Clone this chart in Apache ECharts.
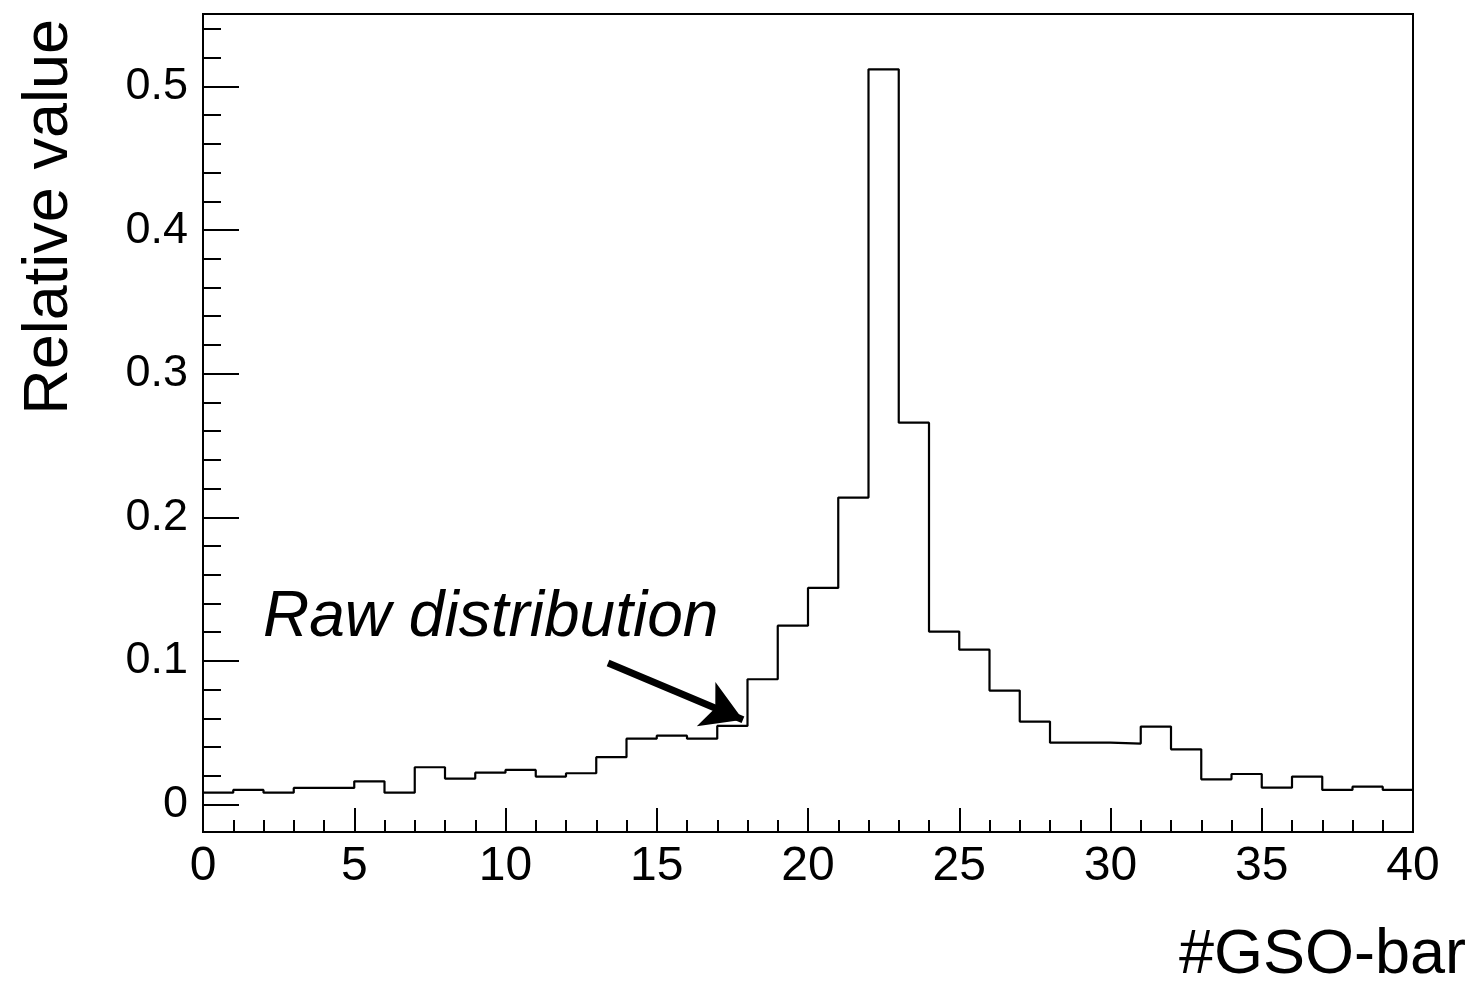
<!DOCTYPE html>
<html>
<head>
<meta charset="utf-8">
<script src="https://cdn.jsdelivr.net/npm/echarts@6/dist/echarts.min.js"></script>
<style>
  html, body { margin: 0; padding: 0; background: #fff; }
  #chart { width: 1477px; height: 982px; }
</style>
</head>
<body>
<div id="chart"></div>
<script>
// Bin edges of the histogram (one bin per GSO bar, 0..40)
const binEdges = [0,1,2,3,4,5,6,7,8,9,10,11,12,13,14,15,16,17,18,19,20,21,22,23,24,25,26,27,28,29,30,31,32,33,34,35,36,37,38,39,40];
// Relative value in each bin
const binValues = [
  0.0082, 0.0101, 0.0082, 0.0115, 0.0115, 0.0161, 0.0082, 0.0259, 0.0180, 0.0221,
  0.0240, 0.0194, 0.0217, 0.0329, 0.0458, 0.0479, 0.0458, 0.0547, 0.0872, 0.1245,
  0.1508, 0.2137, 0.5120, 0.2659, 0.1204, 0.1078, 0.0793, 0.0577, 0.0430, 0.0430,
  0.0424, 0.0542, 0.0384, 0.0175, 0.0212, 0.0117, 0.0194, 0.0101, 0.0124, 0.0101
];
// Axis tick values
const yMajorTicks = [0, 0.1, 0.2, 0.3, 0.4, 0.5];
const yMinorTicks = [0.02, 0.04, 0.06, 0.08, 0.12, 0.14, 0.16, 0.18, 0.22, 0.24, 0.26, 0.28,
                     0.32, 0.34, 0.36, 0.38, 0.42, 0.44, 0.46, 0.48, 0.52, 0.54];
// Annotation arrow: from text towards the distribution
const arrowFrom = [13.39, 0.0985];
const arrowTo = [17.85, 0.0590];

const FONT = '"Liberation Sans", Arial, Helvetica, sans-serif';
const Y_MIN = -0.0192, Y_MAX = 0.5505;

// Step outline: one point at each left edge, plus the closing right edge
const stepData = binValues.map((v, i) => [binEdges[i], v]);
stepData.push([binEdges[binEdges.length - 1], binValues[binValues.length - 1]]);

const chart = echarts.init(document.getElementById('chart'), null, { renderer: 'canvas' });

chart.setOption({
  backgroundColor: '#fff',
  animation: false,
  grid: {
    left: 203, right: 64, top: 14, bottom: 150,
    show: true, borderColor: '#000', borderWidth: 2, backgroundColor: 'transparent'
  },
  xAxis: {
    type: 'value', min: 0, max: 40, interval: 5,
    axisLine: { show: true, onZero: false, lineStyle: { color: '#000', width: 2 } },
    axisTick: { show: true, inside: true, length: 24, lineStyle: { color: '#000', width: 2 } },
    minorTick: { show: true, splitNumber: 5, length: 12, lineStyle: { color: '#000', width: 2 } },
    axisLabel: { color: '#000', fontFamily: FONT, fontSize: 48, margin: 11 },
    splitLine: { show: false }
  },
  yAxis: [
    {
      type: 'value', min: Y_MIN, max: Y_MAX,
      axisLine: { show: true, onZero: false, lineStyle: { color: '#000', width: 2 } },
      axisTick: { show: true, inside: true, length: 36, customValues: yMajorTicks,
                  lineStyle: { color: '#000', width: 2 } },
      axisLabel: { color: '#000', fontFamily: FONT, fontSize: 45, margin: 15,
                   customValues: yMajorTicks },
      splitLine: { show: false }
    },
    {
      type: 'value', min: Y_MIN, max: Y_MAX, position: 'left', offset: 0,
      axisLine: { show: false },
      axisTick: { show: true, inside: true, length: 18, customValues: yMinorTicks,
                  lineStyle: { color: '#000', width: 2 } },
      axisLabel: { show: false },
      splitLine: { show: false }
    }
  ],
  series: [
    {
      type: 'line',
      name: 'Raw distribution',
      data: stepData,
      step: 'end',
      showSymbol: false,
      symbol: 'none',
      clip: true,
      lineStyle: { color: '#000', width: 2.2 },
      markLine: {
        silent: true,
        symbol: ['none', 'arrow'],
        symbolSize: [36, 40],
        lineStyle: { color: '#000', width: 7, type: 'solid' },
        label: { show: false },
        data: [[{ coord: arrowFrom }, { coord: arrowTo }]]
      }
    }
  ],
  graphic: [
    {
      type: 'text', x: 263, y: 618,
      style: {
        text: 'Raw distribution', fill: '#000', fontFamily: FONT,
        fontStyle: 'italic', fontSize: 64, align: 'left', verticalAlign: 'middle'
      }
    },
    {
      type: 'text', x: 1466, y: 956,
      style: {
        text: '#GSO-bar', fill: '#000', fontFamily: FONT,
        fontSize: 63, align: 'right', verticalAlign: 'middle'
      }
    },
    {
      type: 'text', x: 50, y: 19, rotation: Math.PI / 2,
      style: {
        text: 'Relative value', fill: '#000', fontFamily: FONT,
        fontSize: 63, align: 'right', verticalAlign: 'middle'
      }
    }
  ]
});
</script>
</body>
</html>
